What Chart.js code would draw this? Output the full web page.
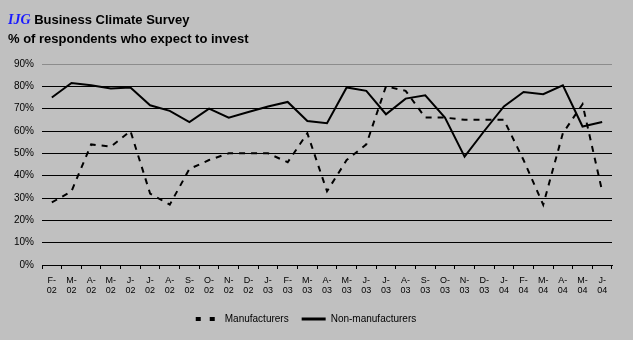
<!DOCTYPE html>
<html lang="en">
<head>
<meta charset="utf-8" />
<title>IJG Business Climate Survey</title>
<style>
    body { margin: 0; background: #c0c0c0; }
    .wrap { position: relative; width: 633px; height: 340px; background: #c0c0c0; }
    .title {
        position: absolute; left: 8px; top: 10px;
        font: bold 13px "Liberation Sans", Arial, sans-serif; color: #000; line-height: 19px;
    }
    .title .ijg { font: italic bold 14px "Liberation Serif", "Times New Roman", serif; color: #1a1aff; }
    canvas { position: absolute; left: 0; top: 0; }
</style>
</head>
<body>
<div class="wrap">
    <canvas id="chart" width="633" height="340"></canvas>
    <div class="title"><span class="ijg">IJG</span> Business Climate Survey<br>% of respondents who expect to invest</div>
</div>
<script src="https://cdn.jsdelivr.net/npm/chart.js@4.4.1/dist/chart.umd.min.js"></script>
<script>
    const months = [
        ['F-', '02'], ['M-', '02'], ['A-', '02'], ['M-', '02'], ['J-', '02'], ['J-', '02'], ['A-', '02'],
        ['S-', '02'], ['O-', '02'], ['N-', '02'], ['D-', '02'],
        ['J-', '03'], ['F-', '03'], ['M-', '03'], ['A-', '03'], ['M-', '03'], ['J-', '03'], ['J-', '03'],
        ['A-', '03'], ['S-', '03'], ['O-', '03'], ['N-', '03'], ['D-', '03'],
        ['J-', '04'], ['F-', '04'], ['M-', '04'], ['A-', '04'], ['M-', '04'], ['J-', '04']
    ];
    const manufacturers = [
        28, 33, 54, 53, 60, 32, 27, 43, 47, 50, 50,
        50, 46, 59, 33, 47, 54, 80, 78, 66, 66, 65, 65,
        65, 47, 27, 59, 72, 33
    ];
    const nonManufacturers = [
        75, 81.5, 80.5, 79, 79.5, 71.5, 69, 64, 70, 66, 68.5,
        71, 73, 64.5, 63.5, 79.5, 78, 67.5, 74.5, 76, 66, 48.5, 60,
        71, 77.5, 76.5, 80.5, 62, 64
    ];
    const yTicks = [0, 10, 20, 30, 40, 50, 60, 70, 80, 90];

    const font = { family: '"Liberation Sans", Arial, sans-serif', size: 10 };

    new Chart(document.getElementById('chart'), {
        type: 'line',
        data: {
            labels: months,
            datasets: [{
                label: 'Manufacturers',
                data: manufacturers,
                borderColor: '#000',
                borderWidth: 2,
                borderDash: [6, 6],
                pointRadius: 0,
                tension: 0,
                fill: false
            }, {
                label: 'Non-manufacturers',
                data: nonManufacturers,
                borderColor: '#000',
                borderWidth: 2,
                pointRadius: 0,
                tension: 0,
                fill: false
            }]
        },
        options: {
            responsive: false,
            animation: false,
            layout: { padding: { left: 0, right: 21, top: 64, bottom: 6 } },
            scales: {
                x: {
                    offset: true,
                    afterFit: (s) => { s.height = 36; },
                    grid: { display: true, offset: true, drawOnChartArea: false, drawTicks: true, tickLength: 4, color: '#000' },
                    border: { display: true, color: '#000', width: 1 },
                    ticks: {
                        font: { family: font.family, size: 9, lineHeight: 1.15 },
                        color: '#000', maxRotation: 0, autoSkip: false, padding: 6
                    }
                },
                y: {
                    min: 0,
                    max: 90,
                    afterBuildTicks: (s) => { s.ticks = yTicks.map(v => ({ value: v })); },
                    afterFit: (s) => { s.width = 42; },
                    grid: {
                        drawTicks: false,
                        color: (c) => c.tick && c.tick.value === 90 ? '#8c8c8c' : '#000'
                    },
                    border: { display: false },
                    ticks: { font: font, color: '#000', padding: 8, callback: (v) => v + '%' }
                }
            },
            plugins: {
                legend: {
                    position: 'bottom',
                    labels: {
                        font: font,
                        color: '#000',
                        usePointStyle: true,
                        pointStyleWidth: 24,
                        padding: 13,
                        generateLabels: (chart) => chart.data.datasets.map((ds, i) => ({
                            text: ds.label,
                            pointStyle: 'line',
                            strokeStyle: '#000',
                            fillStyle: '#000',
                            lineWidth: i === 0 ? 4 : 3,
                            lineDash: i === 0 ? [5, 9] : [],
                            datasetIndex: i
                        }))
                    }
                },
                tooltip: { enabled: false }
            }
        }
    });
</script>
</body>
</html>
